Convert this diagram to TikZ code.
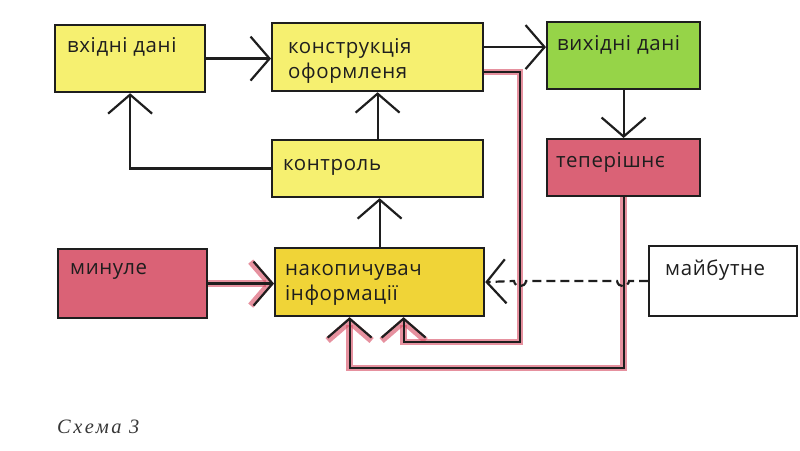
\documentclass[tikz,border=0pt]{standalone}
\usepackage{fontspec}
\setmainfont{Open Sans}[LetterSpace=3]
\newfontfamily\capfont{Liberation Serif}[LetterSpace=12]
\usetikzlibrary{arrows.meta,calc}
\definecolor{ink}{RGB}{30,30,30}
\definecolor{yel}{RGB}{246,240,112}
\definecolor{gold}{RGB}{240,212,55}
\definecolor{grn}{RGB}{150,212,72}
\definecolor{pnk}{RGB}{218,98,118}
\definecolor{glow}{RGB}{214,72,95}
\definecolor{capc}{RGB}{55,55,55}
\begin{document}
\begin{tikzpicture}[x=1bp,y=-1bp,
  box/.style={draw=ink, line width=2.2bp, inner sep=0pt, anchor=north west},
  txt/.style={anchor=base west, inner sep=0pt, font=\fontsize{20.5}{26}\selectfont, text=ink, align=left},
  tipb/.style={-{Straight Barb[length=19bp,width=44bp]}},
  arr/.style={draw=ink, line width=2.2bp, tipb},
  redglow/.style={draw=glow, line width=6.5bp, opacity=.6, tipb},
]
\useasboundingbox (0,0) rectangle (800,451);
% boxes
\node[box, fill=yel, minimum width=150bp, minimum height=67bp] (vd) at (54,24) {};
\node[box, fill=yel, minimum width=211bp, minimum height=68bp] (kon) at (271,22) {};
\node[box, fill=grn, minimum width=153bp, minimum height=67bp] (vyh) at (546,21) {};
\node[box, fill=pnk, minimum width=153bp, minimum height=57bp] (tep) at (546,138) {};
\node[box, fill=yel, minimum width=211bp, minimum height=57bp] (ktr) at (271,139) {};
\node[box, fill=pnk, minimum width=149bp, minimum height=69bp] (min) at (57,248) {};
\node[box, fill=gold, minimum width=209bp, minimum height=68bp] (nak) at (274,247) {};
\node[box, fill=white, minimum width=148bp, minimum height=70bp] (mai) at (648,245) {};
% texts
\node[txt] (tvd) at (67,53) {вхідні дані};
\node[txt] (tkon) at (288,79) {конструкція\\оформленя};
\node[txt] (tvyh) at (557,51) {вихідні дані};
\node[txt] (ttep) at (556,168) {теперішнє};
\node[txt] (tktr) at (283,171) {контроль};
\node[txt] (tmin) at (70,275) {минуле};
\node[txt] (tnak) at (285,301) {накопичувач\\інформації};
\node[txt] (tmai) at (665,276) {майбутне};
\node[anchor=base west, inner sep=0pt, font=\capfont\itshape\fontsize{20.5}{24}\selectfont, text=capc] (cap) at (57,433) {Схема 3};
% helper coordinates
\coordinate (k1) at ($(kon.east)+(0,-10)$);
\coordinate (r1) at ($(kon.east)+(0,15)$);
\coordinate (c1) at (520,342);
\coordinate (c2) at (623,368);
\coordinate (n1) at ($(nak.south)+(-30,0)$);
\coordinate (n2) at ($(nak.south)+(24,0)$);
% red glow underlays
\draw[redglow] (r1) -| (c1) -| (n2);
\draw[redglow] (tep.south) -- (tep.south |- c2) -| (n1);
\draw[redglow] (min.east) -- (min.east -| nak.west);
% black connectors
\draw[arr] (vd.east) -- (vd.east -| kon.west);
\draw[arr] (k1) -- (k1 -| vyh.west);
\draw[arr] (vyh.south) -- (tep.north);
\draw[arr] (ktr.north) -- (ktr.north |- kon.south);
\draw[arr] (nak.north) -- (nak.north |- ktr.south);
\draw[arr] (ktr.west) -| (vd.south);
\draw[arr] (min.east) -- (min.east -| nak.west);
\draw[arr] (r1) -| (c1) -| (n2);
\draw[arr] (tep.south) -- (tep.south |- c2) -| (n1);
\draw[arr, dash pattern=on 9bp off 5bp] (mai.west) -- (629,281) .. controls (628,288) and (618,288) .. (617,281) -- (526,281) .. controls (525,288) and (515,288) .. (514,281) -- (nak.east);
\end{tikzpicture}
\end{document}
